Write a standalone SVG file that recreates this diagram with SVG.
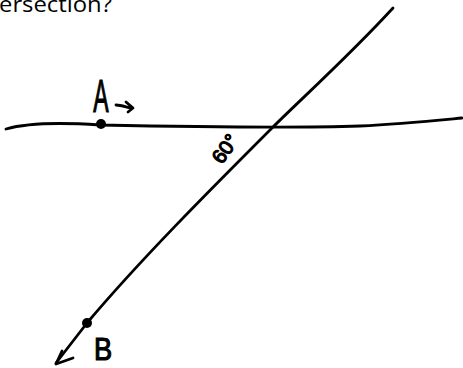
<svg xmlns="http://www.w3.org/2000/svg" width="463" height="368" viewBox="0 0 463 368">
<style>
.ink{fill:none;stroke:#000;stroke-width:2.8;stroke-linecap:round;stroke-linejoin:round}
.lbl{font-family:"Liberation Sans",sans-serif;fill:#000;stroke:#000;stroke-width:1.2}
</style>
<rect width="463" height="368" fill="#fff"/>
<text x="-1" y="12" style="font-family:'Open Sans','Liberation Sans',sans-serif;fill:#000" font-size="22" textLength="113" lengthAdjust="spacingAndGlyphs">ersection?</text>
<g id="connectors">
<path class="ink" d="M6,129 C30,122 70,123 100,125 C200,127 300,128 360,126 C400,124 430,121 462,118"/>
<path class="ink" d="M393,8 C350,55 300,100 272,128 C210,190 140,260 87,323 L56,363"/>
<path class="ink" d="M62,351 L56,364 L73,358"/>
<path class="ink" d="M116,105 C121,105 126,107 131,108 M126,102 L133,108 L128,112"/>
</g>
<g id="A">
<circle cx="101" cy="124" r="5"/>
<text x="101" y="112" class="lbl" font-size="46" stroke-width="1.6" text-anchor="middle" transform="translate(101,0) scale(0.5,1) translate(-101,0)">A</text>
</g>
<g id="B">
<circle cx="87" cy="323" r="5"/>
<text x="103" y="360" class="lbl" font-size="32" text-anchor="middle" transform="translate(103,0) scale(0.85,1) translate(-103,0)">B</text>
</g>
<g id="angle">
<text class="lbl" font-size="20" stroke-width="0.6" transform="translate(222,165) rotate(-55)">60°</text>
</g>
</svg>
